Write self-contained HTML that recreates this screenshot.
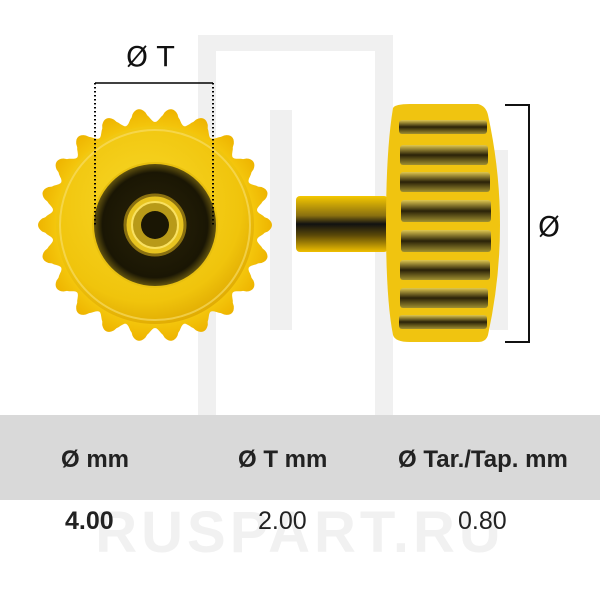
<!DOCTYPE html>
<html><head><meta charset="utf-8"><style>
body{margin:0;width:600px;height:600px;background:#fff;overflow:hidden;font-family:"Liberation Sans",sans-serif;position:relative}
.t{position:absolute;font-weight:bold;font-size:24px;color:#222}
.v{position:absolute;font-size:25px;color:#222}
</style></head><body>
<svg width="600" height="600" style="position:absolute;left:0;top:0">
<defs>
<radialGradient id="g0" cx="0.5" cy="0.5" r="0.5"><stop offset="0.8" stop-color="#f6cc10"/><stop offset="1" stop-color="#eeb400"/></radialGradient>
<radialGradient id="g1" cx="0.45" cy="0.4" r="0.65"><stop offset="0" stop-color="#f8d828"/><stop offset="0.75" stop-color="#f0c40c"/><stop offset="1" stop-color="#dca400"/></radialGradient>
<radialGradient id="dk" cx="0.5" cy="0.5" r="0.5"><stop offset="0" stop-color="#2a2408"/><stop offset="0.85" stop-color="#1a1604"/><stop offset="1" stop-color="#6a5a10"/></radialGradient>
<linearGradient id="st" x1="0" y1="0" x2="0" y2="1"><stop offset="0" stop-color="#f5c800"/><stop offset="0.35" stop-color="#8a7010"/><stop offset="0.5" stop-color="#111"/><stop offset="0.7" stop-color="#5a4808"/><stop offset="1" stop-color="#f0c000"/></linearGradient>
<linearGradient id="gr" x1="0" y1="0" x2="0" y2="1"><stop offset="0" stop-color="#e0c850"/><stop offset="0.5" stop-color="#2a2208"/><stop offset="1" stop-color="#a09030"/></linearGradient>
</defs>
<g fill="#f0f0f0">
<rect x="198" y="35" width="18" height="410"/><rect x="198" y="35" width="195" height="16"/><rect x="375" y="35" width="18" height="410"/>
<rect x="270" y="110" width="22" height="220"/><rect x="490" y="150" width="18" height="180"/>
</g>
<rect x="0" y="415" width="600" height="85" fill="#d9d9d9"/>
<text x="300" y="552" text-anchor="middle" font-size="58" font-weight="bold" fill="#f1f1f1" font-family="Liberation Sans" letter-spacing="4">RUSPART.RU</text>
<path id="gear" fill="url(#g0)"/>
<circle cx="155" cy="225" r="99" fill="url(#g1)"/>
<circle cx="155" cy="225" r="95" fill="none" stroke="#f8e070" stroke-width="2" opacity="0.6"/>
<circle cx="155" cy="225" r="62" fill="url(#dk)" stroke="#e8c010" stroke-width="2"/>
<circle cx="155" cy="225" r="30" fill="#e8c420" stroke="#8a7010" stroke-width="3"/>
<circle cx="155" cy="225" r="23" fill="#b89a18" stroke="#f8e060" stroke-width="2"/>
<circle cx="155" cy="225" r="14" fill="#1a1604"/>
<line x1="95" y1="83" x2="213" y2="83" stroke="#000" stroke-width="1.5"/>
<line x1="95" y1="83" x2="95" y2="225" stroke="#000" stroke-width="2" stroke-dasharray="1.5,2.5"/>
<line x1="213" y1="83" x2="213" y2="225" stroke="#000" stroke-width="2" stroke-dasharray="1.5,2.5"/>
<text x="126" y="66" font-size="28" fill="#111" font-family="DejaVu Sans">Ø T</text>
<rect x="296" y="196" width="92" height="56" rx="4" fill="url(#st)"/>
<path d="M393 108 Q395 104 410 104 L478 104 Q486 106 488 115 Q500 170 500 225 Q500 280 488 335 Q486 342 478 342 L410 342 Q395 342 393 335 Q386 300 386 225 Q386 150 393 108Z" fill="#f0c410"/>
<g fill="url(#gr)">
<rect x="399" y="120" width="88" height="14" rx="3"/>
<rect x="400" y="145" width="88" height="20" rx="3"/>
<rect x="400" y="172" width="90" height="20" rx="3"/>
<rect x="401" y="200" width="90" height="22" rx="3"/>
<rect x="401" y="230" width="90" height="22" rx="3"/>
<rect x="400" y="260" width="90" height="20" rx="3"/>
<rect x="400" y="288" width="88" height="20" rx="3"/>
<rect x="399" y="315" width="88" height="14" rx="3"/>
</g>
<polyline points="505,105 529,105 529,342 505,342" fill="none" stroke="#111" stroke-width="2"/>
<text x="538" y="236" font-size="28" fill="#111" font-family="DejaVu Sans">Ø</text>
</svg>
<div class="t" style="left:61px;top:446px">Ø mm</div>
<div class="t" style="left:238px;top:446px">Ø T mm</div>
<div class="t" style="left:398px;top:446px">Ø Tar./Tap. mm</div>
<div class="t" style="left:65px;top:507px;font-size:25px">4.00</div>
<div class="v" style="left:258px;top:507px">2.00</div>
<div class="v" style="left:458px;top:507px">0.80</div>
<script>
var d="",n=440;for(var i=0;i<=n;i++){var a=i/n*2*Math.PI,c=Math.cos(22*a),r=110+7*(c>0?Math.pow(c,0.7):-Math.pow(-c,1.3));d+=(i?"L":"M")+(155+r*Math.cos(a)).toFixed(1)+" "+(225+r*Math.sin(a)).toFixed(1);}
document.getElementById("gear").setAttribute("d",d+"Z");
</script>
</body></html>
